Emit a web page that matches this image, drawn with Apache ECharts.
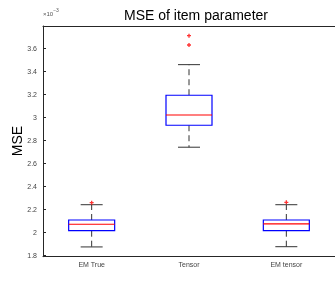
<!DOCTYPE html>
<html>
<head>
<meta charset="utf-8">
<script src="https://cdn.jsdelivr.net/npm/echarts@6/dist/echarts.min.js"></script>
<style>
  html, body { margin: 0; padding: 0; background: #fff; }
  #chart { width: 335px; height: 284px; }
</style>
</head>
<body>
<div id="chart"></div>
<script>
// 类别与箱线图数据（单位 ×10^-3）
const categories = ['EM True', 'Tensor', 'EM tensor'];
const whiskerLow = [1.876, 2.743, 1.878];
const q1 = [2.017, 2.934, 2.017];
const median = [2.073, 3.023, 2.076];
const q3 = [2.110, 3.195, 2.110];
const whiskerHigh = [2.243, 3.461, 2.243];
// 离群点 [类别索引, 值]
const outliers = [[0, 2.261], [1, 3.713], [1, 3.632], [2, 2.264]];
// y 轴刻度
const yTicks = [1.8, 2, 2.2, 2.4, 2.6, 2.8, 3, 3.2, 3.4, 3.6];

const FONT = 'Liberation Sans, Arial, sans-serif';
const AXIS_COLOR = '#262626';

const boxData = categories.map((c, i) =>
  [i, whiskerLow[i], q1[i], median[i], q3[i], whiskerHigh[i]]);

const chart = echarts.init(document.getElementById('chart'), null, { renderer: 'canvas' });

// 自定义箱线图绘制（MATLAB 风格：虚线须、半宽端帽）
function renderBox(params, api) {
  const x = api.value(0);
  const pLow = api.coord([x, api.value(1)]);
  const pQ1 = api.coord([x, api.value(2)]);
  const pMed = api.coord([x, api.value(3)]);
  const pQ3 = api.coord([x, api.value(4)]);
  const pHigh = api.coord([x, api.value(5)]);
  const cx = pMed[0];
  const halfBox = 23;
  const halfCap = 11;
  const dash = { stroke: '#333', lineWidth: 1, lineDash: [6, 4] };
  const solid = { stroke: '#333', lineWidth: 1 };
  return {
    type: 'group',
    children: [
      { type: 'line', shape: { x1: cx, y1: pQ3[1], x2: cx, y2: pHigh[1] }, style: dash },
      { type: 'line', shape: { x1: cx, y1: pQ1[1], x2: cx, y2: pLow[1] }, style: dash },
      { type: 'line', shape: { x1: cx - halfCap, y1: pHigh[1], x2: cx + halfCap, y2: pHigh[1] }, style: solid },
      { type: 'line', shape: { x1: cx - halfCap, y1: pLow[1], x2: cx + halfCap, y2: pLow[1] }, style: solid },
      {
        type: 'rect',
        shape: { x: cx - halfBox, y: pQ3[1], width: halfBox * 2, height: pQ1[1] - pQ3[1] },
        style: { fill: '#fff', stroke: '#0000ff', lineWidth: 1.2 }
      },
      { type: 'line', shape: { x1: cx - halfBox, y1: pMed[1], x2: cx + halfBox, y2: pMed[1] }, style: { stroke: '#ff0000', lineWidth: 1.2 } }
    ]
  };
}

const option = {
  animation: false,
  title: {
    text: 'MSE of item parameter',
    left: 191,
    textAlign: 'center',
    top: 4,
    textStyle: { fontFamily: FONT, fontSize: 14, fontWeight: 'normal', color: '#000' }
  },
  graphic: [
    {
      type: 'text',
      left: 43,
      top: 8,
      style: {
        text: '{a|×10}{b|−3}',
        rich: {
          a: { fontFamily: FONT, fontSize: 6, fill: '#555', padding: [3, 0, 0, 0] },
          b: { fontFamily: FONT, fontSize: 5, fill: '#555', verticalAlign: 'top' }
        }
      }
    },
    {
      type: 'text',
      x: 18,
      y: 141,
      rotation: Math.PI / 2,
      style: {
        text: 'MSE',
        fontFamily: FONT,
        fontSize: 14,
        fill: '#000',
        align: 'center',
        verticalAlign: 'middle'
      }
    }
  ],
  grid: { left: 43, top: 26, width: 297, height: 230.7 },
  xAxis: [
    {
      type: 'category',
      data: categories,
      position: 'bottom',
      axisLine: { lineStyle: { color: AXIS_COLOR, width: 1 } },
      axisTick: { inside: true, alignWithLabel: true, length: 3, lineStyle: { color: AXIS_COLOR } },
      axisLabel: { fontFamily: FONT, fontSize: 7, color: '#444', margin: 5 },
      splitLine: { show: false }
    },
    {
      type: 'category',
      data: categories,
      position: 'top',
      axisLine: { lineStyle: { color: AXIS_COLOR, width: 1 } },
      axisTick: { inside: true, alignWithLabel: true, length: 3, lineStyle: { color: AXIS_COLOR } },
      axisLabel: { show: false },
      splitLine: { show: false }
    }
  ],
  yAxis: {
    type: 'value',
    min: 1.791,
    max: 3.797,
    axisLine: { show: true, lineStyle: { color: AXIS_COLOR, width: 1 } },
    axisTick: { show: true, inside: true, length: 3, customValues: yTicks, lineStyle: { color: AXIS_COLOR } },
    axisLabel: { customValues: yTicks, fontFamily: FONT, fontSize: 7, color: '#444', margin: 6 },
    splitLine: { show: false }
  },
  series: [
    {
      type: 'custom',
      renderItem: renderBox,
      encode: { x: 0, y: [1, 2, 3, 4, 5] },
      data: boxData,
      z: 2
    },
    {
      type: 'scatter',
      data: outliers,
      symbol: 'path://M-1,-3H1V-1H3V1H1V3H-1V1H-3V-1H-1Z',
      symbolSize: 4,
      itemStyle: { color: '#ff0000' },
      z: 3
    }
  ]
};

chart.setOption(option);
</script>
</body>
</html>
